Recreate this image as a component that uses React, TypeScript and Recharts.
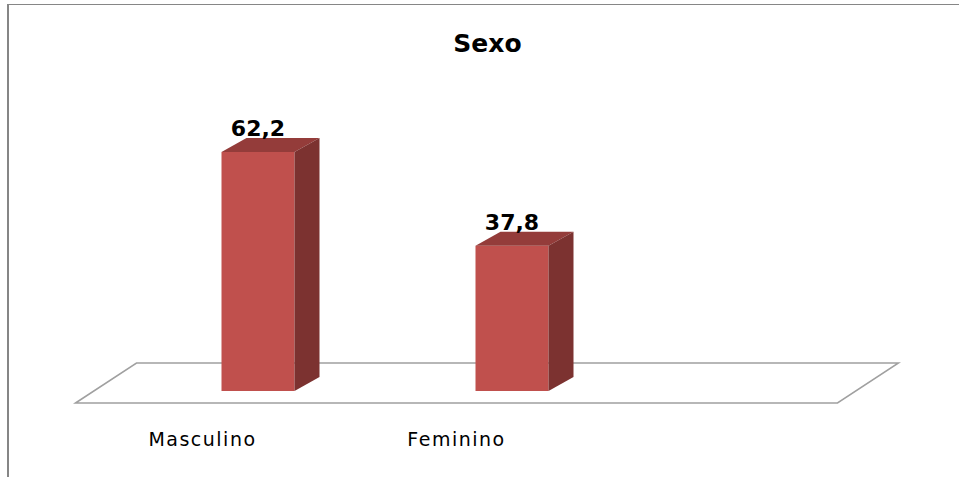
import { BarChart, Bar, XAxis, YAxis, LabelList, Customized } from "recharts";

const CATEGORIES = ["Masculino", "Feminino", ""];
const VALUES = [62.2, 37.8, null];
const TITLE = "Sexo";

const FRONT = "#C0504D";
const TOP = "#943C3A";
const SIDE = "#7C3230";
const FLOOR = "#A0A0A0";
const FONT = "DejaVu Sans";

// 3d depth of the boxes and the floor (px)
const DX = 25;
const DY = 14;
const LABEL_SHIFT = -55;

const W = 959;
const H = 477;
const MARGIN = { top: 122, right: 66.5, bottom: 56, left: 130.5 };
const BASE_Y = 391;

const data = CATEGORIES.map((name, i) => ({ name, value: VALUES[i] }));

function Box(props: any) {
  const { x, y, width, height } = props;
  if (height == null || height <= 0) return null;
  const r = x + width;
  const b = y + height;
  return (
    <g>
      <rect x={x} y={y} width={width} height={height} fill={FRONT} />
      <polygon points={`${x},${y} ${x + DX},${y - DY} ${r + DX},${y - DY} ${r},${y}`} fill={TOP} />
      <polygon points={`${r},${y} ${r + DX},${y - DY} ${r + DX},${b - DY} ${r},${b}`} fill={SIDE} />
    </g>
  );
}

function ValueLabel(props: any) {
  const { x, y, width, value } = props;
  if (value == null) return null;
  return (
    <text x={x + width / 2} y={y - DY - 2} textAnchor="middle" fontFamily={FONT} fontWeight="bold" fontSize={22} fill="#000">
      {String(value).replace(".", ",")}
    </text>
  );
}

function CategoryTick(props: any) {
  const { x, y, payload } = props;
  if (!payload.value) return null;
  return (
    <text x={x + LABEL_SHIFT} y={y} dy={55} textAnchor="middle" fontFamily={FONT} fontSize={19} letterSpacing={1.5} fill="#000">
      {payload.value}
    </text>
  );
}

function Floor() {
  const left = MARGIN.left + LABEL_SHIFT;
  const right = W - MARGIN.right + LABEL_SHIFT;
  const front = BASE_Y + 12;
  const back = BASE_Y - 28;
  const off = 61;
  return (
    <polygon
      points={`${left},${front} ${left + off},${back} ${right + off},${back} ${right},${front}`}
      fill="none"
      stroke={FLOOR}
      strokeWidth={1.5}
    />
  );
}

function Title() {
  return (
    <text x={487.5} y={52} textAnchor="middle" fontFamily={FONT} fontWeight="bold" fontSize={25} fill="#000">
      {TITLE}
    </text>
  );
}

export default function App() {
  return (
    <div style={{ position: "absolute", left: 0, top: 0, width: W, height: H, background: "#fff" }}>
      <div
        style={{
          position: "absolute",
          left: 7,
          top: 4,
          width: W - 7,
          height: H - 4,
          boxSizing: "border-box",
          borderTop: "1px solid #868686",
          borderLeft: "2px solid #868686",
        }}
      />
      <div style={{ position: "absolute", left: 0, top: 0 }}>
        <BarChart width={W} height={H} data={data} margin={MARGIN} barSize={73}>
          <Customized component={Floor} />
          <Customized component={Title} />
          <XAxis dataKey="name" axisLine={false} tickLine={false} tickSize={0} tickMargin={0} height={30} interval={0} tick={CategoryTick} />
          <YAxis hide domain={[0, 70]} />
          <Bar dataKey="value" shape={Box} isAnimationActive={false}>
            <LabelList dataKey="value" content={ValueLabel} />
          </Bar>
        </BarChart>
      </div>
    </div>
  );
}
